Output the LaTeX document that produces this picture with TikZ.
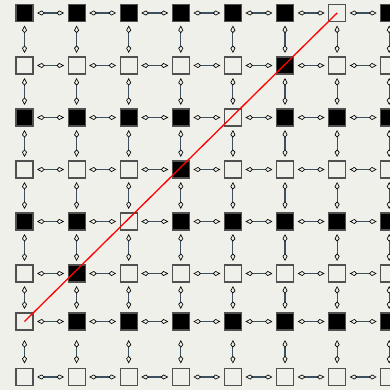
\documentclass[tikz,border=0pt]{standalone}
\usetikzlibrary{arrows.meta}
\definecolor{bg}{RGB}{240,240,234}
\definecolor{shaft}{RGB}{60,80,95}
\definecolor{edgecol}{RGB}{80,80,80}
\begin{document}
\begin{tikzpicture}[x=1pt,y=-1pt,
  cell/.style={draw=edgecol,line width=1.1pt,minimum size=17pt,inner sep=0pt,fill=bg},
  s0/.style={fill=bg},
  s1/.style={fill=black},
  tipk/.tip={Kite[open,length=7.5pt,width=5pt,inset=2.7pt,color=black,line width=0.65pt]},
  link/.style={draw=shaft,line width=1.1pt,tipk-tipk,shorten >=3.5pt,shorten <=3.5pt},
  vlink6/.style={link,shorten <=9.5pt,shorten >=4.5pt},
  diag/.style={draw=red,line width=1.3pt}]
\fill[bg] (0,0) rectangle (390,390);
\useasboundingbox (0,0) rectangle (390,390);
\clip (0,0) rectangle (390,390);
\foreach \r/\y/\pat in {0/13/{1,1,1,1,1,1,0,1},
                        1/65.5/{0,0,0,0,0,1,0,0},
                        2/117.5/{1,1,1,1,0,1,1,1},
                        3/169.5/{0,0,0,1,0,0,0,0},
                        4/221.5/{1,1,0,1,1,1,1,1},
                        5/273.5/{0,1,0,0,0,0,0,0},
                        6/321.5/{0,1,1,1,1,1,1,1},
                        7/377/{0,0,0,0,0,0,0,0}}{
  \foreach \v [count=\c from 0] in \pat {
    \node[cell,s\v] (n-\r-\c) at (24.5+52.1*\c,\y) {};
  }
}
% horizontal links
\foreach \r in {0,...,7}{
  \foreach \c in {0,...,6}{
    \pgfmathtruncatemacro{\d}{\c+1}
    \draw[link] (n-\r-\c) -- (n-\r-\d);
  }
}
% vertical links
\foreach \r in {0,...,5}{
  \pgfmathtruncatemacro{\s}{\r+1}
  \foreach \c in {0,...,7}{
    \draw[link] (n-\r-\c) -- (n-\s-\c);
  }
}
\foreach \c in {0,...,7}{
  \draw[vlink6] (n-6-\c) -- (n-7-\c);
}
\draw[diag] (n-6-0.center) -- (n-0-6.center);
\end{tikzpicture}
\end{document}
